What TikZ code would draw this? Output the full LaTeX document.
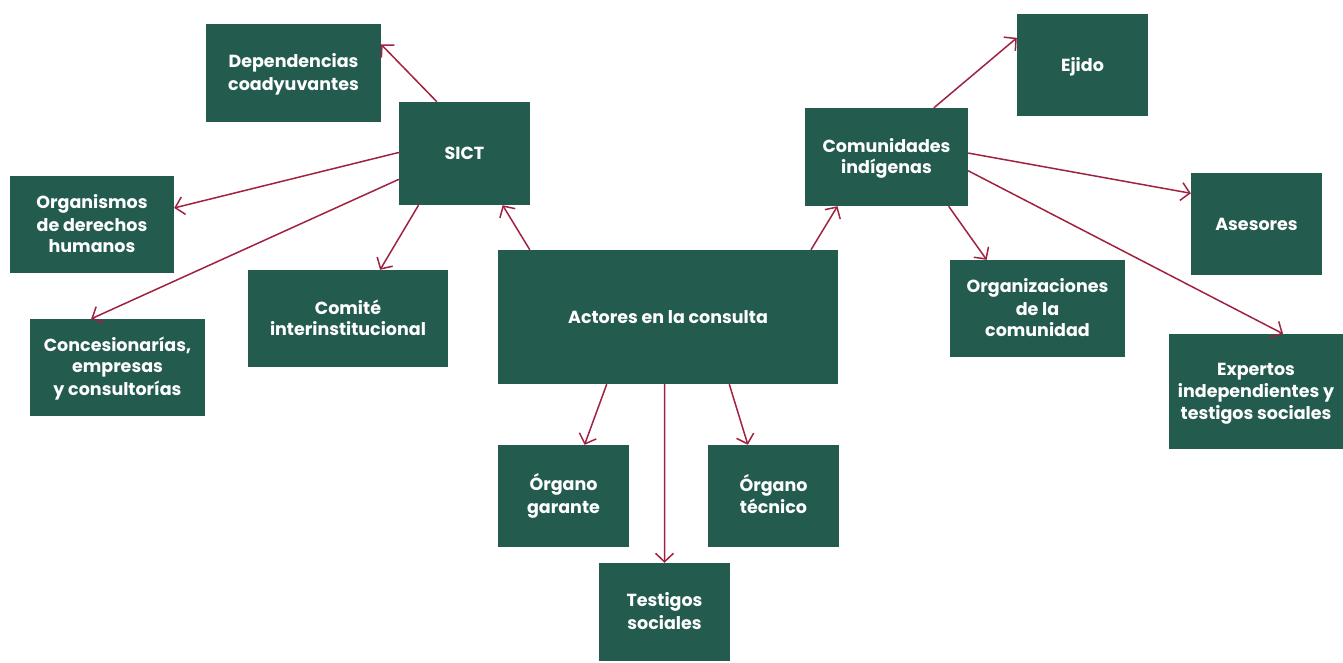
\documentclass[tikz,border=0pt]{standalone}
\usepackage{fontspec}
\setmainfont{Poppins}
\usetikzlibrary{arrows.meta,calc}
\definecolor{boxgreen}{HTML}{235B4E}
\definecolor{arrowred}{HTML}{9F2241}
\newcommand{\bx}{\rule[-4.3pt]{0pt}{21pt}}
\tikzset{
  actor/.style={fill=boxgreen, draw=none, text=white, align=center,
    font=\bfseries\fontsize{17.5}{21}\selectfont, inner sep=0pt,
    minimum width=#1},
  link/.style={draw=arrowred, line width=1.5pt,
    -{Straight Barb[length=8.5pt,width=18pt]}}
}
\begin{document}
\begin{tikzpicture}[x=1pt,y=-1pt]
\useasboundingbox (0,0) rectangle (1343,662);
% nodes (centres in pixel coordinates, y downward)
\node[actor=175pt, minimum height=98pt]  (dep)  at (293.5,73)   {Dependencias\bx\\coadyuvantes\bx};
\node[actor=131pt, minimum height=103pt] (sict) at (464.5,153.5) {SICT\bx};
\node[actor=164pt, minimum height=97pt]  (org)  at (92,224.5)   {Organismos\bx\\de derechos\bx\\humanos\bx};
\node[actor=175pt, minimum height=97pt]  (conc) at (117.5,367.5) {Concesionarías,\bx\\empresas\bx\\y consultorías\bx};
\node[actor=200pt, minimum height=97pt]  (comite) at (348,318.5) {Comité\bx\\interinstitucional\bx};
\node[actor=340pt, minimum height=134pt] (act)  at (668,317)    {Actores en la consulta\bx};
\node[actor=131pt, minimum height=102pt] (gar)  at (563.5,496)  {Órgano\bx\\garante\bx};
\node[actor=131pt, minimum height=98pt]  (test) at (664.5,612)  {Testigos\bx\\sociales\bx};
\node[actor=131pt, minimum height=102pt] (tec)  at (773.5,496)  {Órgano\bx\\técnico\bx};
\node[actor=163pt, minimum height=98pt]  (com)  at (886.5,157)  {Comunidades\bx\\indígenas\bx};
\node[actor=131pt, minimum height=102pt] (ejido) at (1082.5,65) {Ejido\bx};
\node[actor=131pt, minimum height=102pt] (ases) at (1256.5,224) {Asesores\bx};
\node[actor=175pt, minimum height=97pt]  (orgcom) at (1037.5,308.5) {Organizaciones\bx\\de la\bx\\comunidad\bx};
\node[actor=174pt, minimum height=115pt] (exp)  at (1256,391.5) {Expertos\bx\\independientes y\bx\\testigos sociales\bx};
% connectors
\draw[link] ($(sict.north west)!0.29!(sict.north east)$) -- ($(dep.north east)!0.21!(dep.south east)$);
\draw[link] ($(sict.north west)!0.49!(sict.south west)$) -- ($(org.north east)!0.33!(org.south east)$);
\draw[link] ($(sict.north west)!0.75!(sict.south west)$) -- ($(conc.north west)!0.35!(conc.north east)$);
\draw[link] ($(sict.south west)!0.15!(sict.south east)$) -- ($(comite.north west)!0.66!(comite.north east)$);
\draw[link] ($(act.north west)!0.094!(act.north east)$) -- ($(sict.south west)!0.79!(sict.south east)$);
\draw[link] ($(act.north west)!0.92!(act.north east)$) -- ($(com.south west)!0.20!(com.south east)$);
\draw[link] ($(com.north west)!0.79!(com.north east)$) -- ($(ejido.north west)!0.235!(ejido.south west)$);
\draw[link] ($(com.north east)!0.46!(com.south east)$) -- ($(ases.north west)!0.2!(ases.south west)$);
\draw[link] ($(com.south west)!0.88!(com.south east)$) -- ($(orgcom.north west)!0.21!(orgcom.north east)$);
\draw[link] ($(com.north east)!0.64!(com.south east)$) -- ($(exp.north west)!0.655!(exp.north east)$);
\draw[link] ($(act.south west)!0.32!(act.south east)$) -- ($(gar.north west)!0.66!(gar.north east)$);
\draw[link] ($(act.south west)!0.49!(act.south east)$) -- ($(test.north west)!0.5!(test.north east)$);
\draw[link] ($(act.south west)!0.68!(act.south east)$) -- ($(tec.north west)!0.305!(tec.north east)$);
\end{tikzpicture}
\end{document}
